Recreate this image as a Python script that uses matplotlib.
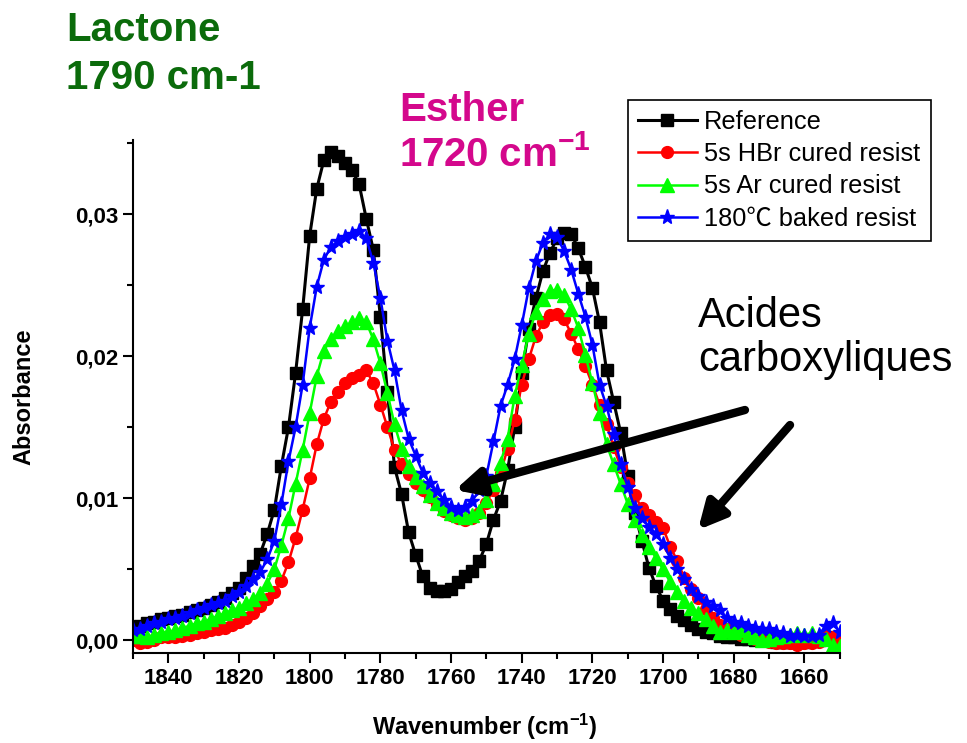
import numpy as np
import matplotlib
matplotlib.use("Agg")
import matplotlib.pyplot as plt
from matplotlib.ticker import MultipleLocator, FuncFormatter

plt.rcParams['font.family'] = ['Liberation Sans', 'DejaVu Sans']
plt.rcParams['mathtext.fontset'] = 'custom'
plt.rcParams['mathtext.rm'] = 'Liberation Sans:bold'
plt.rcParams['mathtext.default'] = 'rm'

# wavenumbers (cm-1), one point every 2 cm-1 from 1850 down to 1650
wavenumber = np.arange(1850, 1649, -2)

reference = [
    0.0008, 0.0010, 0.0012, 0.0013, 0.0015, 0.0016, 0.0017, 0.0018, 0.0020, 0.0021,
    0.0023, 0.0025, 0.0027, 0.0030, 0.0033, 0.0037, 0.0044, 0.0052, 0.0061, 0.0075,
    0.0092, 0.0123, 0.0150, 0.0188, 0.0233, 0.0285, 0.0318, 0.0338, 0.0344, 0.0341,
    0.0336, 0.0331, 0.0321, 0.0297, 0.0275, 0.0228, 0.0175, 0.0122, 0.0103, 0.0076,
    0.0060, 0.0045, 0.0037, 0.0035, 0.0035, 0.0036, 0.0041, 0.0045, 0.0049, 0.0056,
    0.0068, 0.0085, 0.0098, 0.0120, 0.0150, 0.0188, 0.0219, 0.0241, 0.0260, 0.0273,
    0.0283, 0.0287, 0.0286, 0.0276, 0.0263, 0.0248, 0.0224, 0.0190, 0.0168, 0.0146,
    0.0116, 0.0090, 0.0070, 0.0051, 0.0038, 0.0028, 0.0022, 0.0017, 0.0014, 0.0011,
    0.0008, 0.0006, 0.0005, 0.0003, 0.0002, 0.0002, 0.0001, 0.0001, 0.0000, 0.0000,
    0.0000, -0.0001, -0.0001, -0.0001, -0.0001, -0.0001, 0.0000, 0.0000, 0.0001, 0.0002,
    0.0002,
]

hbr_cured = [
    0.0000, -0.0002, -0.0001, 0.0000, 0.0002, 0.0002, 0.0002, 0.0003, 0.0004, 0.0005,
    0.0006, 0.0007, 0.0008, 0.0009, 0.0011, 0.0013, 0.0016, 0.0019, 0.0024, 0.0029,
    0.0034, 0.0042, 0.0055, 0.0072, 0.0092, 0.0114, 0.0138, 0.0156, 0.0168, 0.0175,
    0.0181, 0.0185, 0.0187, 0.0190, 0.0181, 0.0166, 0.0150, 0.0134, 0.0124, 0.0117,
    0.0111, 0.0106, 0.0101, 0.0096, 0.0091, 0.0088, 0.0086, 0.0085, 0.0086, 0.0090,
    0.0097, 0.0106, 0.0118, 0.0135, 0.0155, 0.0180, 0.0198, 0.0214, 0.0224, 0.0229,
    0.0230, 0.0226, 0.0216, 0.0205, 0.0193, 0.0180, 0.0166, 0.0152, 0.0136, 0.0122,
    0.0111, 0.0102, 0.0093, 0.0088, 0.0083, 0.0079, 0.0066, 0.0056, 0.0044, 0.0036,
    0.0030, 0.0022, 0.0016, 0.0011, 0.0008, 0.0006, 0.0004, 0.0003, 0.0001, 0.0000,
    -0.0001, -0.0002, -0.0002, -0.0002, -0.0003, -0.0002, -0.0002, -0.0001, 0.0003, 0.0002,
    -0.0001,
]

ar_cured = [
    0.0003, 0.0003, 0.0002, 0.0004, 0.0005, 0.0006, 0.0007, 0.0009, 0.0010, 0.0012,
    0.0013, 0.0015, 0.0017, 0.0019, 0.0021, 0.0023, 0.0026, 0.0029, 0.0033, 0.0040,
    0.0050, 0.0067, 0.0086, 0.0110, 0.0134, 0.0160, 0.0186, 0.0204, 0.0212, 0.0218,
    0.0221, 0.0224, 0.0227, 0.0224, 0.0212, 0.0195, 0.0174, 0.0152, 0.0135, 0.0123,
    0.0115, 0.0109, 0.0102, 0.0097, 0.0093, 0.0090, 0.0088, 0.0087, 0.0088, 0.0091,
    0.0099, 0.0110, 0.0125, 0.0142, 0.0172, 0.0194, 0.0216, 0.0231, 0.0240, 0.0246,
    0.0247, 0.0243, 0.0233, 0.0220, 0.0201, 0.0181, 0.0160, 0.0138, 0.0124, 0.0110,
    0.0096, 0.0085, 0.0074, 0.0066, 0.0058, 0.0050, 0.0041, 0.0034, 0.0028, 0.0023,
    0.0019, 0.0015, 0.0010, 0.0006, 0.0007, 0.0006, 0.0007, 0.0004, 0.0002, 0.0000,
    0.0001, 0.0002, 0.0003, 0.0004, 0.0005, 0.0004, 0.0005, 0.0003, 0.0001, -0.0003,
    -0.0004,
]

baked_180 = [
    0.0007, 0.0008, 0.0010, 0.0012, 0.0013, 0.0015, 0.0016, 0.0017, 0.0019, 0.0021,
    0.0023, 0.0025, 0.0026, 0.0028, 0.0031, 0.0034, 0.0038, 0.0043, 0.0048, 0.0057,
    0.0070, 0.0096, 0.0126, 0.0150, 0.0180, 0.0220, 0.0249, 0.0268, 0.0277, 0.0281,
    0.0284, 0.0286, 0.0288, 0.0283, 0.0266, 0.0241, 0.0211, 0.0190, 0.0162, 0.0142,
    0.0130, 0.0118, 0.0111, 0.0105, 0.0099, 0.0094, 0.0092, 0.0094, 0.0098, 0.0106,
    0.0116, 0.0140, 0.0165, 0.0180, 0.0198, 0.0222, 0.0248, 0.0267, 0.0280, 0.0286,
    0.0284, 0.0274, 0.0261, 0.0244, 0.0228, 0.0208, 0.0180, 0.0165, 0.0145, 0.0124,
    0.0108, 0.0093, 0.0086, 0.0080, 0.0075, 0.0068, 0.0058, 0.0050, 0.0043, 0.0036,
    0.0031, 0.0027, 0.0024, 0.0021, 0.0016, 0.0013, 0.0012, 0.0010, 0.0009, 0.0008,
    0.0008, 0.0006, 0.0005, 0.0003, 0.0004, 0.0003, 0.0003, 0.0004, 0.0010, 0.0012,
    0.0006,
]

series_labels = ['Reference', '5s HBr cured resist', '5s Ar cured resist', '180\u2103 baked resist']

fig = plt.figure(figsize=(9.67, 7.43), dpi=100)
ax = fig.add_axes([0.1375, 0.121, 0.731, 0.690])

ax.plot(wavenumber, reference, '-s', color='black', lw=2.2, ms=8, label=series_labels[0])
ax.plot(wavenumber, hbr_cured, '-o', color='red', lw=1.8, ms=8.5, label=series_labels[1])
ax.plot(wavenumber, ar_cured, '-^', color='#00ff00', lw=1.8, ms=9.5, label=series_labels[2])
ax.plot(wavenumber, baked_180, '-*', color='blue', lw=1.8, ms=11, label=series_labels[3])

ax.set_xlim(1850, 1650)
ax.set_ylim(-0.0009, 0.0352)
ax.xaxis.set_major_locator(MultipleLocator(20))
ax.xaxis.set_minor_locator(MultipleLocator(10))
ax.yaxis.set_major_locator(MultipleLocator(0.01))
ax.yaxis.set_minor_locator(MultipleLocator(0.005))
ax.yaxis.set_major_formatter(FuncFormatter(lambda v, p: f'{v:.2f}'.replace('.', ',')))

for side in ['top', 'right']:
    ax.spines[side].set_visible(False)
for side in ['left', 'bottom']:
    ax.spines[side].set_linewidth(1.5)
ax.tick_params(which='major', length=7, width=1.5, labelsize=16, direction='out')
ax.tick_params(which='minor', length=4, width=1.5, direction='out')
for lab in ax.get_xticklabels() + ax.get_yticklabels():
    lab.set_fontweight('bold')

ax.set_xlabel('Wavenumber (cm$^{-1}$)', fontsize=17, fontweight='bold')
ax.set_ylabel('Absorbance', fontsize=17, fontweight='bold')
ax.xaxis.set_label_coords(0.498, -0.115)
ax.yaxis.set_label_coords(-0.138, 0.5)

leg = ax.legend(loc='upper left', bbox_to_anchor=(0.6494, 0.8654),
                bbox_transform=fig.transFigure, borderaxespad=0,
                handlelength=2.3, labelspacing=0.32, handletextpad=0.3,
                fancybox=False, framealpha=1, edgecolor='black',
                prop={'family': ['Liberation Sans', 'Noto Sans CJK SC'], 'size': 18.3})
leg.get_frame().set_linewidth(1.2)

fig.text(0.068, 0.985, 'Lactone\n1790 cm-1', color='#0b6b0b', fontsize=29,
         fontweight='bold', va='top', ha='left', linespacing=1.32)
fig.text(0.413, 0.878, 'Esther\n1720 cm$^{-1}$', color='#d4088c', fontsize=29,
         fontweight='bold', va='top', ha='left', linespacing=1.2)
fig.text(0.722, 0.602, 'Acides\ncarboxyliques', color='black', fontsize=30,
         va='top', ha='left', linespacing=1.15)

arrow = dict(arrowstyle='-|>', lw=6, color='black', mutation_scale=40,
             shrinkA=0, shrinkB=0)
ax.annotate('', xy=(0.4705, 0.3405), xytext=(0.7704, 0.4482),
            xycoords='figure fraction', textcoords='figure fraction', arrowprops=arrow)
ax.annotate('', xy=(0.7218, 0.2867), xytext=(0.8170, 0.4280),
            xycoords='figure fraction', textcoords='figure fraction', arrowprops=arrow)

fig.savefig('out.png', dpi=100)
